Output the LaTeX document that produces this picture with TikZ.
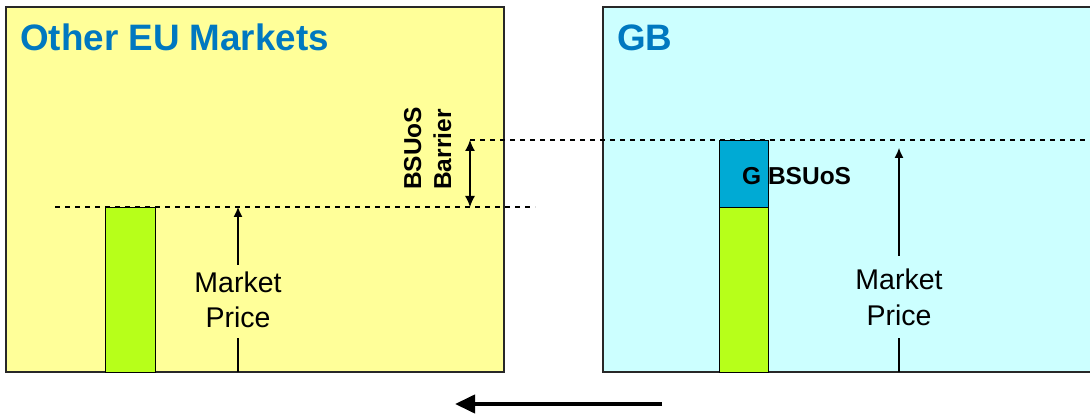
\documentclass[tikz,border=0pt]{standalone}
\usepackage{fontspec}
\setmainfont{Liberation Sans}
\usetikzlibrary{arrows.meta}
\definecolor{paneY}{RGB}{255,255,153}
\definecolor{paneC}{RGB}{204,255,255}
\definecolor{barG}{RGB}{183,255,26}
\definecolor{barB}{RGB}{0,170,212}
\definecolor{titleB}{RGB}{0,120,192}
\definecolor{frameC}{RGB}{40,40,40}
\begin{document}
\begin{tikzpicture}[x=1pt,y=-1pt,
  panel/.style={draw=frameC,line width=1.5pt},
  barbox/.style={draw=black,line width=0.9pt},
  guide/.style={dash pattern=on 5pt off 5pt,line width=1.1pt},
  titletext/.style={font=\fontsize{36.8}{40}\selectfont\bfseries,text=titleB,anchor=base west,inner sep=0pt},
  pricetext/.style={font=\fontsize{28.5}{34}\selectfont,inner sep=0pt,anchor=base,text height=20pt,text depth=0pt},
  boldlbl/.style={font=\fontsize{24.5}{28}\selectfont\bfseries,inner sep=0pt,anchor=base west},
  uparrow/.style={-{Latex[length=10pt,width=9pt]},line width=1.1pt},
  plainline/.style={line width=1.1pt}]
\clip (0,0) rectangle (1090,414);
\fill[white] (0,0) rectangle (1090,414);
% panels
\draw[panel,fill=paneY] (6,7) rectangle (504,372);
\draw[panel,fill=paneC] (603,7) rectangle (1096,372);
\node[titletext] (t1) at (20,51) {Other EU Markets};
\node[titletext] (t2) at (617,51) {GB};
% dashed guides
\coordinate (d1a) at (55,207);
\coordinate (d1b) at (535,207);
\coordinate (d1m) at (470,207);
\coordinate (d2a) at (470,140);
\coordinate (d2b) at (1090,140);
\draw[guide] (d1a) -- (d1b);
\draw[guide] (d2a) -- (d2b);
% bars
\draw[barbox,fill=barG] (105,207) rectangle (155,372);
\draw[barbox,fill=barB] (719,140) rectangle (768,207);
\draw[barbox,fill=barG] (719,207) rectangle (768,372);
\node[boldlbl] (gb) at (742,185) {G BSUoS};
% barrier
\draw[{Latex[length=11pt,width=10pt]}-{Latex[length=11pt,width=10pt]},line width=1.3pt] (d2a) -- (d1m);
\node[boldlbl,rotate=90] (bs) at (421,190) {BSUoS};
\node[boldlbl,rotate=90] (ba) at (451,190) {Barrier};
% market price left
\node[pricetext] (m1) at (238,292) {Market};
\node[pricetext] (p1) at (238,327) {Price};
\coordinate (f1) at (238,372);
\coordinate (h1) at (238,207);
\draw[plainline,shorten >=11pt] (f1) -- (p1.south);
\draw[uparrow,shorten <=7pt] (m1.north) -- (h1);
% market price right
\node[pricetext] (m2) at (899,290) {Market};
\node[pricetext] (p2) at (899,325) {Price};
\coordinate (f2) at (899,372);
\coordinate (h2) at (899,148);
\draw[plainline,shorten >=13pt] (f2) -- (p2.south);
\draw[uparrow,shorten <=14pt] (m2.north) -- (h2);
% direction arrow
\coordinate (a1) at (662,404);
\coordinate (a2) at (455,404);
\draw[line width=4pt,-{Triangle[length=20pt,width=18pt]}] (a1) -- (a2);
\end{tikzpicture}
\end{document}
